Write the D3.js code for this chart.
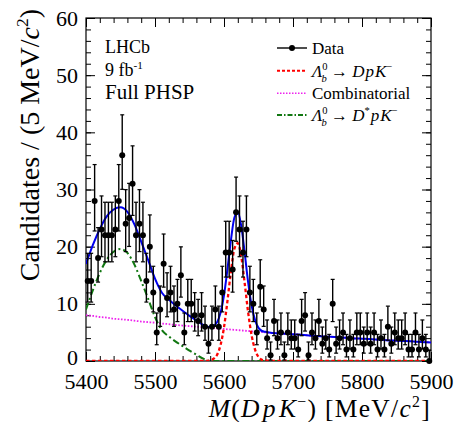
<!DOCTYPE html>
<html>
<head>
<meta charset="utf-8">
<script src="https://cdn.jsdelivr.net/npm/d3@7"></script>
<style>
  body { margin: 0; background: #fff; }
  svg { display: block; }
  text { font-family: "Liberation Serif", "Times New Roman", serif; fill: #000; }
</style>
</head>
<body>
<svg id="chart" width="457" height="422"></svg>
<script>
// ---- Data: M(DpK-) spectrum, 5 MeV bins from 5400 to 5900 MeV ----
const binLow = 5400;
const binWidth = 5;
const counts = [
  14, 14, 28, 18, 23, 22, 22, 22, 23, 28,
  36, 24, 25, 31, 22, 24, 22, 14, 20, 12,
   5,  9, 17, 11, 12,  9, 10, 15,  5, 10,
  10,  8,  7,  8,  6,  3,  6,  9,  6, 12,
  19, 19, 16, 26, 23, 19, 23, 12, 10,  5,
  13,  9,  4,  1,  7,  4,  5,  1,  5,  4,
   4,  2,  7,  8,  1,  5,  4,  7,  3,  4,
   2, 10,  3,  4,  5,  2,  4,  2,  5,  5,
   3,  5,  3,  5,  2,  4,  2,  6,  3,  5,
   4,  4,  5,  2,  2,  5,  2,  4,  2,  0
];

// ---- Fit components sampled along the mass axis ----
const fitMass = [
  5400, 5410, 5420, 5430, 5440, 5450, 5460, 5470, 5480, 5490,
  5500, 5510, 5520, 5530, 5540, 5550, 5560, 5570, 5580,
  5585, 5590, 5595, 5600, 5605, 5610, 5615, 5620, 5625, 5630,
  5635, 5640, 5645, 5650, 5655, 5660,
  5670, 5680, 5690, 5700, 5710, 5720, 5730, 5740, 5750, 5760,
  5770, 5780, 5790, 5800, 5810, 5820, 5830, 5840, 5850, 5860,
  5870, 5880, 5890, 5900
];
// Lambda_b0 -> D p K- signal
const fitSignal = [
  0, 0, 0, 0, 0, 0, 0, 0, 0, 0,
  0, 0, 0, 0, 0, 0, 0, 0, 0.1,
  0.4, 1.1, 2.8, 5.9, 10.5, 15.6, 19.6, 20.6, 18.3, 13.6,
  8.5, 4.5, 2.0, 0.7, 0.2, 0.1,
  0, 0, 0, 0, 0, 0, 0, 0, 0, 0,
  0, 0, 0, 0, 0, 0, 0, 0, 0, 0,
  0, 0, 0, 0
];
// Combinatorial background
const fitCombinatorial = [
  8.0, 7.9, 7.7, 7.6, 7.4, 7.3, 7.2, 7.05, 6.9, 6.8,
  6.7, 6.55, 6.45, 6.3, 6.2, 6.1, 6.0, 5.9, 5.8,
  5.75, 5.7, 5.65, 5.6, 5.55, 5.5, 5.45, 5.4, 5.35, 5.3,
  5.25, 5.2, 5.15, 5.1, 5.05, 5.0,
  4.9, 4.85, 4.75, 4.7, 4.6, 4.5, 4.4, 4.35, 4.25, 4.2,
  4.1, 4.05, 3.95, 3.9, 3.85, 3.75, 3.7, 3.6, 3.55, 3.5,
  3.45, 3.35, 3.3, 3.25
];
// Lambda_b0 -> D* p K- partially reconstructed background
const fitDstar = [
  9.0, 12.4, 15.4, 17.7, 19.1, 19.6, 18.9, 16.9, 14.0, 10.9,
  7.7, 5.4, 4.3, 3.4, 2.6, 1.8, 1.1, 0.4, 0,
  0, 0, 0, 0, 0, 0, 0, 0, 0, 0,
  0, 0, 0, 0, 0, 0,
  0, 0, 0, 0, 0, 0, 0, 0, 0, 0,
  0, 0, 0, 0, 0, 0, 0, 0, 0, 0,
  0, 0, 0, 0
];

const xTicks = [5400, 5500, 5600, 5700, 5800, 5900];
const yTicks = [0, 10, 20, 30, 40, 50, 60];

// ---- Layout ----
const SERIF = "'Liberation Serif', 'Times New Roman', serif";
const X0 = 86, X1 = 431, Y0 = 361, Y1 = 18;
const svg = d3.select("#chart");
const x = d3.scaleLinear().domain([5400, 5900]).range([X0, X1]);
const y = d3.scaleLinear().domain([0, 60]).range([Y0, Y1]);

svg.append("rect").attr("width", 457).attr("height", 422).attr("fill", "#fff");
svg.append("defs").append("clipPath").attr("id", "plotClip")
  .append("rect").attr("x", X0).attr("y", Y1).attr("width", X1 - X0).attr("height", Y0 - Y1);

// Rich text helper: italic / superscript / subscript pieces
function rich(sel, parts, size) {
  let shift = 0;
  parts.forEach(([t, o = {}]) => {
    const ts = sel.append("tspan").text(t);
    const target = o.sup ? -size * 0.4 : o.sub ? size * 0.3 : 0;
    const dy = target - shift;
    shift = target;
    if (dy) ts.attr("dy", dy);
    if (o.dx) ts.attr("dx", o.dx);
    if (o.italic) ts.attr("font-style", "italic");
    if (o.sup || o.sub) ts.attr("font-size", size * 0.62);
  });
}

// ---- Axes (ticks on all four sides, pointing inward) ----
function clean(g) {
  g.attr("font-family", null).style("font-family", SERIF);
  g.select(".domain").remove();
  g.selectAll(".tick line").attr("stroke", "#000").attr("stroke-width", 1);
  g.selectAll(".tick text").attr("font-size", 22).attr("fill", "#000")
    .style("font-family", SERIF);
}
const minorX = d3.range(5400, 5901, 20);
const minorY = d3.range(0, 61, 2);
const fmt = d3.format("d");

svg.append("g").attr("transform", `translate(0,${Y0})`)
  .call(d3.axisBottom(x).tickValues(minorX).tickSize(-5).tickFormat("")).call(clean);
svg.append("g").attr("transform", `translate(0,${Y0})`)
  .call(d3.axisBottom(x).tickValues(xTicks).tickSize(-9).tickPadding(12.5).tickFormat(fmt)).call(clean);
svg.append("g").attr("transform", `translate(0,${Y1})`)
  .call(d3.axisTop(x).tickValues(minorX).tickSize(-5).tickFormat("")).call(clean);
svg.append("g").attr("transform", `translate(0,${Y1})`)
  .call(d3.axisTop(x).tickValues(xTicks).tickSize(-9).tickFormat("")).call(clean);
svg.append("g").attr("transform", `translate(${X0},0)`)
  .call(d3.axisLeft(y).tickValues(minorY).tickSize(-5).tickFormat("")).call(clean);
const yAxisG = svg.append("g").attr("transform", `translate(${X0},0)`)
  .call(d3.axisLeft(y).tickValues(yTicks).tickSize(-9).tickPadding(8).tickFormat(fmt)).call(clean);
// lift the "0" label slightly so it clears the first x label
yAxisG.selectAll(".tick text").filter(d => d === 0).attr("dy", "0.16em");
svg.append("g").attr("transform", `translate(${X1},0)`)
  .call(d3.axisRight(y).tickValues(minorY).tickSize(-5).tickFormat("")).call(clean);
svg.append("g").attr("transform", `translate(${X1},0)`)
  .call(d3.axisRight(y).tickValues(yTicks).tickSize(-9).tickFormat("")).call(clean);

svg.append("rect").attr("x", X0).attr("y", Y1).attr("width", X1 - X0).attr("height", Y0 - Y1)
  .attr("fill", "none").attr("stroke", "#000").attr("stroke-width", 1.2);

// ---- Fit curves ----
const fitTotal = fitMass.map((m, i) => fitSignal[i] + fitCombinatorial[i] + fitDstar[i]);
const curves = [
  { values: fitCombinatorial, color: "#ee22ee", width: 1.8, dash: "1.6,1.6" },
  { values: fitDstar, color: "#117711", width: 2, dash: "7,3,2,3" },
  { values: fitSignal, color: "#ff0000", width: 2.3, dash: "3.5,2.5" },
  { values: fitTotal, color: "#0000ee", width: 2, dash: null }
];
const plot = svg.append("g").attr("clip-path", "url(#plotClip)");
curves.forEach(c => {
  const line = d3.line()
    .x((m) => x(m))
    .y((m, i) => y(c.values[i]))
    .curve(d3.curveMonotoneX);
  plot.append("path").attr("d", line(fitMass))
    .attr("fill", "none").attr("stroke", c.color).attr("stroke-width", c.width)
    .attr("stroke-dasharray", c.dash);
});

// ---- Data points with Poisson (Gehrels) error bars ----
function poissonUp(n) { return n + 1 + Math.sqrt(n + 0.75); }
function poissonLow(n) { return n === 0 ? 0 : n * Math.pow(1 - 1 / (9 * n) - 1 / (3 * Math.sqrt(n)), 3); }

const points = counts.map((n, i) => ({ m: binLow + binWidth * (i + 0.5), n }));
const dataG = svg.append("g");
const pg = dataG.selectAll("g.pt").data(points).join("g").attr("class", "pt");
pg.append("line")
  .attr("x1", d => x(d.m)).attr("x2", d => x(d.m))
  .attr("y1", d => y(poissonLow(d.n))).attr("y2", d => y(poissonUp(d.n)))
  .attr("stroke", "#000").attr("stroke-width", 1.4);
pg.append("line")
  .attr("x1", d => x(d.m) - 2).attr("x2", d => x(d.m) + 2)
  .attr("y1", d => y(poissonUp(d.n))).attr("y2", d => y(poissonUp(d.n)))
  .attr("stroke", "#000").attr("stroke-width", 1.2);
pg.filter(d => d.n > 0).append("line")
  .attr("x1", d => x(d.m) - 2).attr("x2", d => x(d.m) + 2)
  .attr("y1", d => y(poissonLow(d.n))).attr("y2", d => y(poissonLow(d.n)))
  .attr("stroke", "#000").attr("stroke-width", 1.2);
pg.append("circle").attr("cx", d => x(d.m)).attr("cy", d => y(d.n)).attr("r", 3).attr("fill", "#000");

// ---- Axis titles ----
const xt = svg.append("text").attr("x", X1).attr("y", 417).attr("text-anchor", "end")
  .attr("font-size", 25.5).attr("letter-spacing", 1.3);
rich(xt, [["M", { italic: true }], ["("], ["D", { italic: true }], ["p", { italic: true, dx: 2 }],
          ["K", { italic: true, dx: 2 }], ["\u2212", { sup: true }],
          [") [MeV/"], ["c", { italic: true }], ["2", { sup: true }], ["]"]], 25.5);

const yt = svg.append("text").attr("transform", "translate(39,9) rotate(-90)")
  .attr("text-anchor", "end").attr("font-size", 28);
rich(yt, [["Candidates / (5 MeV/"], ["c", { italic: true }], ["2", { sup: true }], [")"]], 28);

// ---- Experiment labels ----
svg.append("text").attr("x", 105).attr("y", 53).attr("font-size", 18).text("LHCb");
const lumi = svg.append("text").attr("x", 105).attr("y", 76).attr("font-size", 18);
rich(lumi, [["9 fb"], ["-1", { sup: true }]], 18);
svg.append("text").attr("x", 105).attr("y", 99).attr("font-size", 21).text("Full PHSP");

// ---- Legend ----
const LS = 17;
const legendRows = [
  { y: 48, type: "data", parts: [["Data"]] },
  { y: 70.7, type: "line", color: "#ff0000", width: 2, dash: "3,2",
    parts: [["\u039B", { italic: true }], ["0", { sup: true }], ["b", { sub: true, italic: true, dx: -6 }],
            [" \u2192 "], ["D", { italic: true }], ["p", { italic: true, dx: 1 }], ["K", { italic: true, dx: 1 }], ["\u2212", { sup: true }]] },
  { y: 93.3, type: "line", color: "#ee22ee", width: 1.5, dash: "1.5,1.5", parts: [["Combinatorial"]] },
  { y: 115, type: "line", color: "#117711", width: 2, dash: "5,2,1.5,2",
    parts: [["\u039B", { italic: true }], ["0", { sup: true }], ["b", { sub: true, italic: true, dx: -6 }],
            [" \u2192 "], ["D", { italic: true }], ["*", { sup: true }], ["p", { italic: true, dx: 1 }], ["K", { italic: true, dx: 1 }], ["\u2212", { sup: true }]] }
];
const lg = svg.append("g");
legendRows.forEach(r => {
  if (r.type === "data") {
    lg.append("line").attr("x1", 277).attr("x2", 307).attr("y1", r.y).attr("y2", r.y)
      .attr("stroke", "#000").attr("stroke-width", 1.4);
    lg.append("circle").attr("cx", 292).attr("cy", r.y).attr("r", 3).attr("fill", "#000");
  } else {
    lg.append("line").attr("x1", 277).attr("x2", 307).attr("y1", r.y).attr("y2", r.y)
      .attr("stroke", r.color).attr("stroke-width", r.width).attr("stroke-dasharray", r.dash);
  }
  const t = lg.append("text").attr("x", 312).attr("y", r.y + 6).attr("font-size", LS);
  rich(t, r.parts, LS);
});
</script>
</body>
</html>
